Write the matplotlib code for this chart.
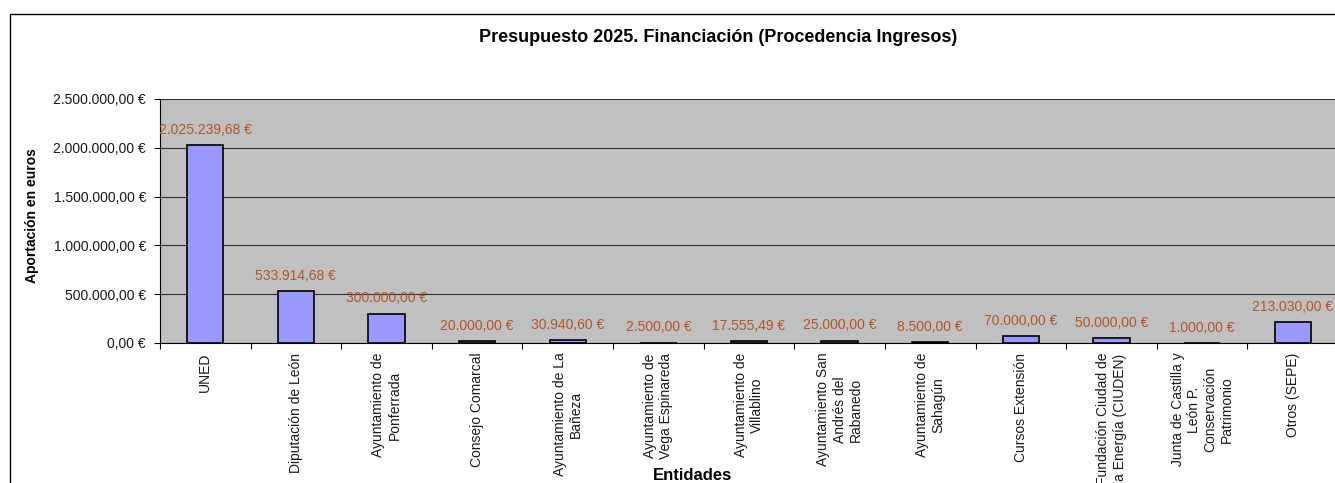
import matplotlib.pyplot as plt
import matplotlib
from matplotlib.patches import Rectangle

matplotlib.rcParams['font.family'] = ['Liberation Sans', 'DejaVu Sans']

# Datos
entidades = [
    "UNED",
    "Diputación de León",
    "Ayuntamiento de\nPonferrada",
    "Consejo Comarcal",
    "Ayuntamiento de La\nBañeza",
    "Ayuntamiento de\nVega Espinareda",
    "Ayuntamiento de\nVillablino",
    "Ayuntamiento San\nAndrés del\nRabanedo",
    "Ayuntamiento de\nSahagún",
    "Cursos Extensión",
    "Fundación Ciudad de\nla Energía (CIUDEN)",
    "Junta de Castilla y\nLeón P.\nConservación\nPatrimonio",
    "Otros (SEPE)",
]
aportacion = [2025239.68, 533914.68, 300000.00, 20000.00, 30940.60, 2500.00,
              17555.49, 25000.00, 8500.00, 70000.00, 50000.00, 1000.00, 213030.00]
yticks = [0, 500000, 1000000, 1500000, 2000000, 2500000]


def euros(v):
    s = f"{v:,.2f}"
    s = s.replace(",", "X").replace(".", ",").replace("X", ".")
    return s + " €"


fig = plt.figure(figsize=(13.35, 4.83), dpi=100)
ax = fig.add_axes([160 / 1335, 140 / 483, 1178 / 1335, 244 / 483])

# marco del gráfico
fig.add_artist(Rectangle((10 / 1335, -0.1), 1.2, (483 - 14) / 483 + 0.1,
                         transform=fig.transFigure, fill=False,
                         edgecolor='black', linewidth=1))

x = range(len(entidades))
ax.set_facecolor('#C0C0C0')
ax.bar(x, aportacion, width=0.4, color='#9999FF', edgecolor='black',
       linewidth=1.2, zorder=3)

for i, v in enumerate(aportacion):
    ax.annotate(euros(v), (i, v), xytext=(0, 6), textcoords='offset points',
                ha='center', va='bottom', fontsize=10, color='#B0552A',
                zorder=4, annotation_clip=False)

ax.set_ylim(0, 2500000)
ax.set_xlim(-0.5, len(entidades) - 0.5)
ax.set_yticks(yticks)
ax.set_yticklabels([euros(t) for t in yticks], fontsize=10, color='#1a1a1a')
ax.yaxis.grid(True, color='#303030', linewidth=0.8, zorder=1)
ax.tick_params(axis='y', length=4, width=0.8, pad=6)

ax.set_xticks(list(x))
ax.set_xticklabels(entidades, rotation=90, fontsize=10, va='top', ha='center',
                   multialignment='center', color='#1a1a1a')
ax.set_xticks([i - 0.5 for i in range(len(entidades) + 1)], minor=True)
ax.tick_params(axis='x', which='major', length=0, pad=7)
ax.tick_params(axis='x', which='minor', length=4, width=0.8)

for s in ['top', 'right']:
    ax.spines[s].set_visible(False)
ax.spines['left'].set_linewidth(0.8)
ax.spines['bottom'].set_linewidth(0.8)

fig.text(718 / 1335, 1 - 38 / 483, "Presupuesto 2025. Financiación (Procedencia Ingresos)",
         ha='center', va='center', fontsize=13, fontweight='bold')
fig.text(32 / 1335, 1 - 216 / 483, "Aportación en euros", rotation=90,
         ha='center', va='center', fontsize=10, fontweight='bold')
fig.text(693 / 1335, 1 - 476 / 483, "Entidades", ha='center', va='center',
         fontsize=12, fontweight='bold')

fig.savefig('out.png', dpi=100)
